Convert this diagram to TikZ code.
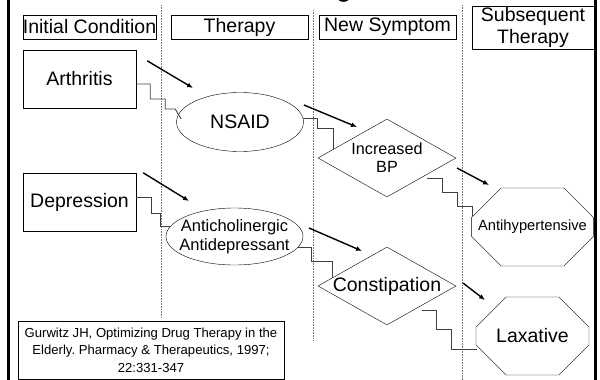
\documentclass[tikz,border=0pt]{standalone}
\usepackage{fontspec}
\setmainfont{Liberation Sans}
\usetikzlibrary{shapes.geometric,shapes.misc,calc,arrows.meta}
\frenchspacing

\begin{document}
\begin{tikzpicture}[x=1pt,y=-1pt,
  every node/.style={inner sep=0pt,font=\fontsize{19.5}{22}\selectfont},
  head/.style={draw,minimum height=24pt,align=center},
  cond/.style={draw,minimum width=113pt,minimum height=58pt},
  drug/.style={draw,ellipse,align=center},
  sympt/.style={draw,diamond,align=center,shape aspect=1.77,inner sep=-2pt,minimum width=138pt,minimum height=78pt},
  later/.style={draw,chamfered rectangle,chamfered rectangle sep=23pt,minimum width=113pt,minimum height=78pt},
  cause/.style={line width=1.4pt,-{Latex[length=6pt,width=5pt]}},
  side/.style={line width=0.9pt,black!75},
  lane/.style={black!55,line width=0.7pt,dash pattern=on 0.8pt off 0.8pt}]
  \useasboundingbox (0,0) rectangle (600,380);
  % frame and the cut title
  \draw[line width=3pt] (8.5,0) -- (8.5,380);
  \draw[line width=2.5pt] (595.5,0) -- (595.5,380);
  \node[font=\fontsize{28}{30}\selectfont,anchor=base] (title) at (344,-3.6) {g};
  \foreach \x/\top/\bot in {161/5/318,313/10/340,462/5/380}
    \draw[lane] (\x,\top) -- (\x,\bot);
  % column heads
  \foreach \name/\x/\w/\txt in {initial/89.5/133/Initial Condition,therapy/239.5/137/Therapy,symptom/387.5/137/New Symptom}
    \node[head,minimum width=\w] (\name) at (\x,27) {\txt};
  \node[head,minimum width=122pt,minimum height=43pt] (subseq) at (533,27.5) {Subsequent\\Therapy};
  % cascade
  \node[cond] (arth) at (79.5,79) {Arthritis};
  \node[cond] (dep) at (79.5,202) {Depression};
  \node[drug,minimum width=127pt,minimum height=59pt] (nsaid) at (240,122) {NSAID};
  \node[drug,minimum width=137pt,minimum height=57pt,inner xsep=-8pt,font=\fontsize{16.5}{18.5}\selectfont] (anti) at (234.5,236.5) {Anticholinergic\\Antidepressant};
  \node[sympt,font=\fontsize{16.2}{18}\selectfont] (bp) at (387,158) {Increased\\BP};
  \node[sympt] (con) at (387,286) {Constipation};
  \node[later,font=\fontsize{14.7}{16}\selectfont] (hyp) at (532.5,227) {Antihypertensive};
  \node[later] (lax) at (532.5,336) {Laxative};
  \node[draw,minimum width=266pt,minimum height=58pt,align=center,font=\fontsize{13.1}{17.5}\selectfont] (cite) at (151,350) {Gurwitz JH, Optimizing Drug Therapy in the\\Elderly. Pharmacy \& Therapeutics, 1997;\\22:331-347};
  % what each drug is given for
  \draw[cause] ($(arth.north east)+(11,11)$) -- ($(nsaid)+(-47,-34)$);
  \draw[cause] ($(dep.north east)+(7,0)$) -- ($(anti)+(-45.5,-35.5)$);
  \draw[cause] ($(nsaid)+(64,-17)$) -- ($(bp)+(-30,-31)$);
  \draw[cause] ($(anti)+(74.5,-8.5)$) -- ($(con)+(-25,-35)$);
  \draw[cause] ($(bp)+(70,10)$) -- ($(hyp)+(-43.5,-42)$);
  \draw[cause] ($(con)+(76,-3)$) -- ($(lax)+(-47.5,-36)$);
  % side effects
  \draw[side] ($(arth.east)+(0,5)$) -- ++(14,0) -- ++(0,15) -- ++(15,0) -- ++(0,10) -- ++(10,0) -- ++(6,10);
  \draw[side] ($(dep.east)+(0,-5)$) -- ++(15,0) -- ++(0,16) -- ++(9,0) -- ++(0,13) -- ++(10,0);
  \draw[side] (nsaid.3) -- ++(14,0) -- ++(0,10) -- ++(16,0) -- ++(0,20);
  \draw[side] (anti.-10) -- ++(14,0) -- ++(0,14) -- ++(21,0) -- ++(0,16.5);
  \draw[side] ($(bp.east)!0.42!(bp.south)+(0,4)$) -- ++(15,0) -- ++(0,14) -- ++(15,0) -- ++(0,14) -- ++(15,0) -- ++(0,10);
  \draw[side] ($(con.east)!0.5!(con.south)+(0,5)$) -- ++(15,0) -- ++(0,19) -- ++(15,0) -- ++(0,20) -- ++(25,0);
\end{tikzpicture}
\end{document}
